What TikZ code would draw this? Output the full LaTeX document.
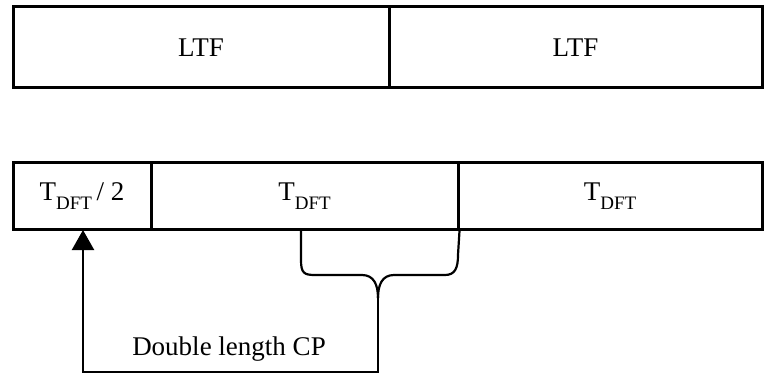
\documentclass[tikz,border=0pt]{standalone}
\usepackage{fontspec}
\setmainfont{Liberation Serif}
\usetikzlibrary{arrows.meta}
\newcommand{\lowsub}[1]{\raisebox{-9pt}{\fontsize{19}{19}\selectfont #1}}
\tikzset{
  cell/.style={draw=black, line width=3pt, rectangle, inner sep=0pt,
    font=\fontsize{27}{30}\selectfont, text=black},
  conn/.style={draw=black, line width=2.2pt},
  lbl/.style={font=\fontsize{27}{30}\selectfont, text=black, inner sep=0pt}
}
\begin{document}
\begin{tikzpicture}[x=1pt, y=-1pt]
\useasboundingbox (0,0) rectangle (765,374);
% top row
\node[cell, minimum width=376pt, minimum height=81pt] (ltfa) at (201,47.5) {LTF};
\node[cell, minimum width=373pt, minimum height=81pt] (ltfb) at (575.5,47.5) {LTF};
% bottom row
\node[cell, minimum width=138pt, minimum height=67pt] (half) at (82,196) {T\lowsub{DFT}\,/ 2};
\node[cell, minimum width=307pt, minimum height=67pt] (ta) at (304.5,196) {T\lowsub{DFT}};
\node[cell, minimum width=304pt, minimum height=67pt] (tb) at (610,196) {T\lowsub{DFT}};
% connector points
\coordinate (bl) at (301,229);
\coordinate (br) at (ta.south east);
\coordinate (cusp) at (378,298);
\coordinate (corner) at (378,372);
\coordinate (cornerl) at (83,372);
\coordinate (tip) at (83,230);
% brace
\draw[conn] (bl) -- (301,260) .. controls (301,273) and (304,275) .. (315,275)
  -- (362,275) .. controls (374,275) and (378,285) .. (cusp);
\draw[conn] (cusp) .. controls (378,285) and (382,275) .. (394,275)
  -- (445,275) .. controls (455,275) and (458,268) .. (458,255) -- (br);
% arrow
\draw[conn, -{Triangle[width=22pt,length=20pt]}] (cusp) -- (corner) -- (cornerl) -- (tip);
\node[lbl] (cp) at (229,349) {Double length CP};
\end{tikzpicture}
\end{document}
